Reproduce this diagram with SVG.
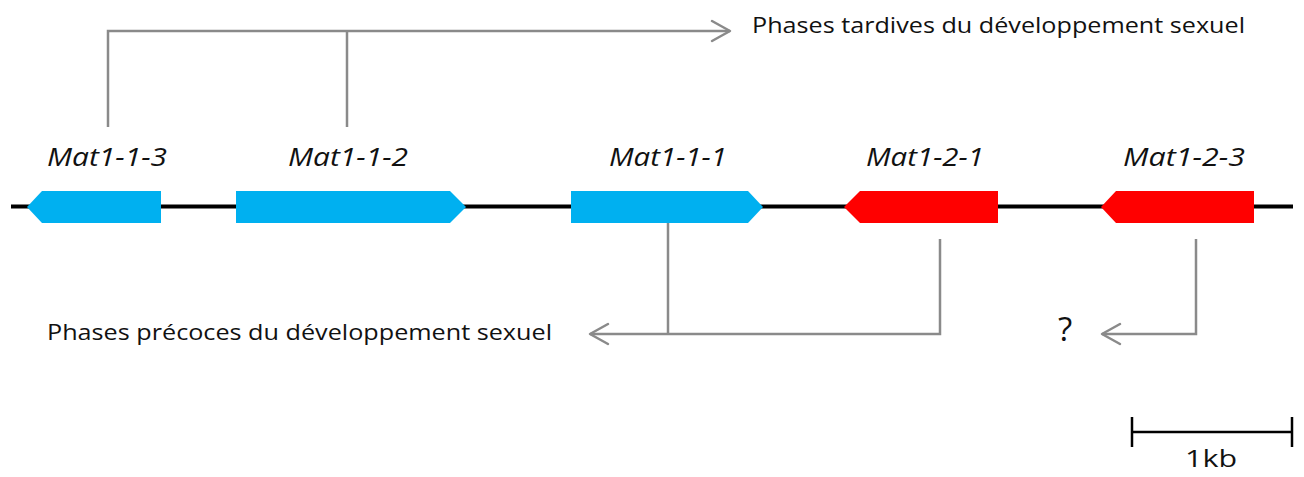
<svg xmlns="http://www.w3.org/2000/svg" width="1304" height="477" viewBox="0 0 1304 477">
<defs>
<style>
.conn{fill:none;stroke:#8a8a8a;stroke-width:2.5;stroke-linejoin:miter}
.head{fill:none;stroke:#8a8a8a;stroke-width:2.5;stroke-linecap:round;stroke-linejoin:round}
.lbl{font-family:"Open Sans","Liberation Sans",sans-serif;font-style:italic;font-size:25px;fill:#111}
.txt{font-family:"Open Sans","Liberation Sans",sans-serif;font-size:21px;fill:#111}
.blue{fill:#00b0f0}
.red{fill:#ff0000}
</style>
</defs>
<rect width="1304" height="477" fill="#fff"/>
<g id="chromosome">
<line x1="11" y1="206.5" x2="1293" y2="206.5" stroke="#000" stroke-width="4"/>
</g>
<g id="mat1-1-3">
<polygon class="blue" points="27,207 42,191 161,191 161,223 42,223"/>
<text class="lbl" x="47" y="166" textLength="120" lengthAdjust="spacingAndGlyphs">Mat1-1-3</text>
</g>
<g id="mat1-1-2">
<polygon class="blue" points="236,191 450,191 466,207 450,223 236,223"/>
<text class="lbl" x="288" y="166" textLength="120" lengthAdjust="spacingAndGlyphs">Mat1-1-2</text>
</g>
<g id="mat1-1-1">
<polygon class="blue" points="571,191 748,191 763,207 748,223 571,223"/>
<text class="lbl" x="609" y="166" textLength="118" lengthAdjust="spacingAndGlyphs">Mat1-1-1</text>
</g>
<g id="mat1-2-1">
<polygon class="red" points="844,207 860,191 998,191 998,223 860,223"/>
<text class="lbl" x="866" y="166" textLength="118" lengthAdjust="spacingAndGlyphs">Mat1-2-1</text>
</g>
<g id="mat1-2-3">
<polygon class="red" points="1101,207 1116,191 1254,191 1254,223 1116,223"/>
<text class="lbl" x="1123" y="166" textLength="122" lengthAdjust="spacingAndGlyphs">Mat1-2-3</text>
</g>
<g id="late-phases">
<text class="txt" x="752" y="33" textLength="493" lengthAdjust="spacingAndGlyphs">Phases tardives du développement  sexuel</text>
</g>
<g id="early-phases">
<text class="txt" x="47" y="340" textLength="505" lengthAdjust="spacingAndGlyphs">Phases précoces du développement  sexuel</text>
</g>
<g id="unknown">
<text x="1058" y="341" font-family="Open Sans, Liberation Sans, sans-serif" font-size="33" fill="#111">?</text>
</g>
<g id="connectors">
<polyline class="conn" points="108,127 108,31 730,31"/>
<line class="conn" x1="347" y1="31" x2="347" y2="127"/>
<polyline class="head" points="712,21 730,31 712,41"/>
<polyline class="conn" points="668,223 668,334"/>
<polyline class="conn" points="940,239 940,334 590,334"/>
<polyline class="head" points="608,324 590,334 608,344"/>
<polyline class="conn" points="1196,239 1196,334 1102,334"/>
<polyline class="head" points="1120,324 1102,334 1120,344"/>
</g>
<g id="scale-bar">
<line x1="1132" y1="432" x2="1292" y2="432" stroke="#000" stroke-width="2.5"/>
<line x1="1132" y1="417" x2="1132" y2="447" stroke="#000" stroke-width="2.5"/>
<line x1="1292" y1="417" x2="1292" y2="447" stroke="#000" stroke-width="2.5"/>
<text x="1185" y="467" font-family="Open Sans, Liberation Sans, sans-serif" font-size="23" fill="#111" textLength="52" lengthAdjust="spacingAndGlyphs">1kb</text>
</g>
</svg>
